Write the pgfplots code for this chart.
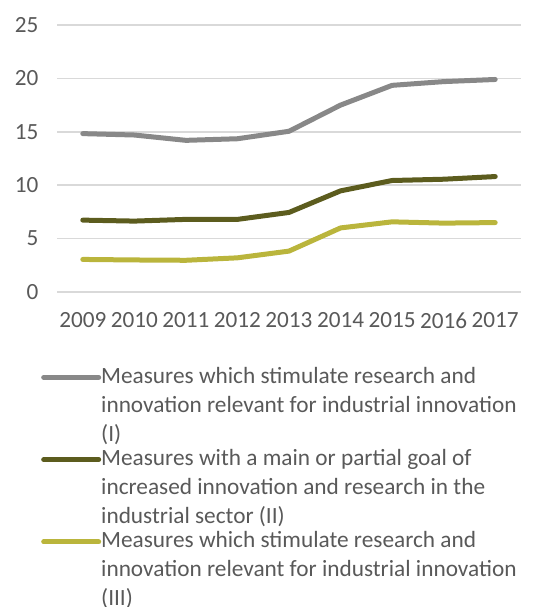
\documentclass[border=0pt]{standalone}
\usepackage{fontspec}
\setmainfont{Carlito}
\usepackage{pgfplots}
\pgfplotsset{compat=1.18}
\definecolor{txt}{HTML}{595959}
\definecolor{gridc}{HTML}{D9D9D9}
\definecolor{sI}{HTML}{888888}
\definecolor{sII}{HTML}{5C5C1E}
\definecolor{sIII}{HTML}{BAB53C}
\newcommand{\legtxt}[1]{\begin{tabular}[t]{@{}l@{}}#1\end{tabular}}
\begin{document}
\begin{tikzpicture}[x=1pt,y=1pt]
\path[use as bounding box] (0,0) rectangle (537,-607);
\begin{axis}[
  at={(57pt,-292pt)}, anchor=south west,
  scale only axis, width=464pt, height=267pt,
  xmin=2008.5, xmax=2017.5, ymin=0, ymax=25,
  xtick={2009,...,2017}, ytick={0,5,...,25},
  xticklabel style={/pgf/number format/1000 sep={}, yshift=-17pt},
  yticklabel style={xshift=-15pt},
  major tick length=0pt,
  axis line style={draw=none},
  xmajorgrids=false, ymajorgrids=true,
  y grid style={draw=gridc, line width=1.5pt},
  tick label style={font=\fontsize{23.2}{27}\selectfont, text=txt},
  /pgf/number format/assume math mode=true,
  every axis plot/.append style={line width=5pt, line join=round, line cap=round},
  legend style={draw=none, fill=none, at={(-0.0345,-0.265)}, anchor=north west,
    inner sep=0pt, row sep=60.5pt,
    font=\fontsize{23.3}{29}\selectfont, text=txt,
    nodes={inner sep=0pt}},
  legend cell align=left,
  legend image code/.code={\draw[#1, line cap=round] (0pt,-3.5pt) -- (55pt,-3.5pt);},
]
\addplot[sI] coordinates {(2009,14.83) (2010,14.7) (2011,14.2) (2012,14.35) (2013,15.05) (2014,17.5) (2015,19.35) (2016,19.7) (2017,19.9)};
\addlegendentry{\legtxt{Measures which stimulate research and\\innovation relevant for industrial innovation\\(I)}}
\addplot[sII] coordinates {(2009,6.73) (2010,6.64) (2011,6.8) (2012,6.8) (2013,7.45) (2014,9.47) (2015,10.44) (2016,10.56) (2017,10.81)};
\addlegendentry{\legtxt{Measures with a main or partial goal of\\increased innovation and research in the\\industrial sector (II)}}
\addplot[sIII] coordinates {(2009,3.05) (2010,3.0) (2011,2.97) (2012,3.2) (2013,3.83) (2014,6.0) (2015,6.57) (2016,6.45) (2017,6.5)};
\addlegendentry{\legtxt{Measures which stimulate research and\\innovation relevant for industrial innovation\\(III)}}
\end{axis}
\end{tikzpicture}
\end{document}
